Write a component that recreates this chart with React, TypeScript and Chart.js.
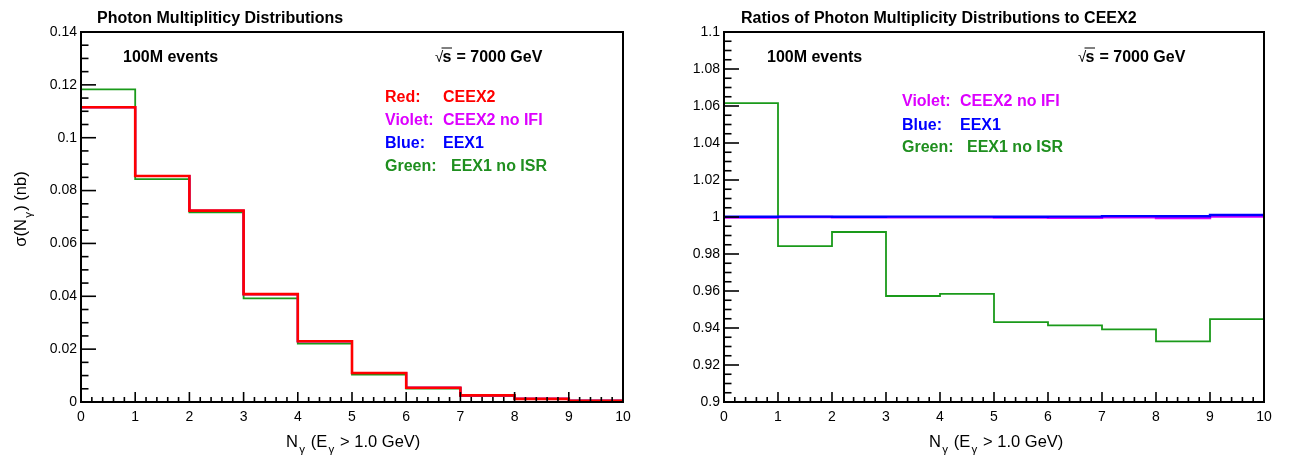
import React, { useEffect, useRef } from 'react';
import { Chart, registerables } from 'chart.js';
Chart.register(...registerables);

const FONT = '"Liberation Sans", Arial, Helvetica, sans-serif';

// ---- data ----
const binLowEdges = [0, 1, 2, 3, 4, 5, 6, 7, 8, 9];
const binUpperEdge = 10;

// Left panel: cross sections (nb)
const xsRed = [0.1115, 0.0855, 0.0724, 0.0408, 0.0230, 0.0110, 0.0054, 0.0025, 0.0012, 0.0005];
const xsViolet = [0.1115, 0.0855, 0.0724, 0.0408, 0.0230, 0.0110, 0.0054, 0.0025, 0.0012, 0.0005];
const xsBlue = [0.1115, 0.0855, 0.0724, 0.0408, 0.0230, 0.0110, 0.0054, 0.0025, 0.0012, 0.0005];
const xsGreen = [0.1183, 0.0843, 0.0718, 0.0392, 0.0221, 0.0104, 0.0051, 0.00235, 0.0011, 0.00047];

// Right panel: ratios to CEEX2
const ratioViolet = [0.9997, 1.0, 0.9999, 0.9999, 0.9998, 0.9997, 0.9996, 0.9998, 0.9995, 1.0002];
const ratioBlue = [1.0001, 1.0002, 1.0001, 1.0002, 1.0002, 1.0001, 1.0002, 1.0005, 1.0004, 1.0011];
const ratioGreen = [1.0616, 0.9843, 0.9919, 0.9573, 0.9584, 0.9432, 0.9414, 0.9393, 0.9328, 0.9448];

// tick labels
const xTickLabels = ['0', '1', '2', '3', '4', '5', '6', '7', '8', '9', '10'];
const yTickLabelsLeft = ['0', '0.02', '0.04', '0.06', '0.08', '0.1', '0.12', '0.14'];
const yTickLabelsRight = ['0.9', '0.92', '0.94', '0.96', '0.98', '1', '1.02', '1.04', '1.06', '1.08', '1.1'];

const COL_RED = '#ff0000';
const COL_VIOLET = '#dd00ff';
const COL_BLUE = '#0000ff';
const COL_GREEN = '#1a9a1a';
const COL_GREEN_TXT = '#1f8f1f';

function histPoints(values: number[]) {
  const pts = binLowEdges.map((x, i) => ({ x, y: values[i] }));
  pts.push({ x: binUpperEdge, y: values[values.length - 1] });
  return pts;
}

type Seg = { t: string; sub?: boolean };

function richWidth(ctx: CanvasRenderingContext2D, segs: Seg[], size: number) {
  let w = 0;
  for (const s of segs) {
    const fs = s.sub ? size * 0.7 : size;
    ctx.font = `${fs}px ${FONT}`;
    w += ctx.measureText(s.t).width + (s.sub ? size * 0.15 : 0);
  }
  return w;
}

function drawRich(ctx: CanvasRenderingContext2D, segs: Seg[], x: number, y: number, size: number) {
  let cx = x;
  for (const s of segs) {
    const fs = s.sub ? size * 0.7 : size;
    ctx.font = `${fs}px ${FONT}`;
    ctx.fillText(s.t, cx + (s.sub ? size * 0.08 : 0), s.sub ? y + size * 0.35 : y);
    cx += ctx.measureText(s.t).width + (s.sub ? size * 0.15 : 0);
  }
}

function drawSqrtS(ctx: CanvasRenderingContext2D, x: number, y: number) {
  ctx.fillStyle = '#000';
  ctx.font = `15px ${FONT}`;
  ctx.fillText('\u221A', x, y);
  ctx.font = `bold 16px ${FONT}`;
  ctx.fillText('s', x + 7.5, y);
  ctx.strokeStyle = '#000';
  ctx.lineWidth = 1;
  ctx.beginPath();
  ctx.moveTo(x + 6.5, y - 13.5);
  ctx.lineTo(x + 17, y - 13.5);
  ctx.stroke();
  ctx.fillText('= 7000 GeV', x + 21.5, y);
}

function text(ctx: CanvasRenderingContext2D, t: string, x: number, y: number, color: string, bold = true, size = 16) {
  ctx.fillStyle = color;
  ctx.font = `${bold ? 'bold ' : ''}${size}px ${FONT}`;
  ctx.fillText(t, x, y);
}

function makeRootPlugin(id: string, minorX: number, minorY: number, decorate: (ctx: CanvasRenderingContext2D, chart: any) => void) {
  return {
    id,
    afterDraw(chart: any) {
      const ctx: CanvasRenderingContext2D = chart.ctx;
      const a = chart.chartArea;
      const xs = chart.scales.x;
      const ys = chart.scales.y;
      ctx.save();
      ctx.strokeStyle = '#000';
      // ticks
      ctx.lineWidth = 1.6;
      const nx = Math.round((xs.max - xs.min) / minorX);
      for (let i = 0; i <= nx; i++) {
        const px = xs.getPixelForValue(xs.min + i * minorX);
        const len = i % 5 === 0 ? 10 : 5;
        ctx.beginPath();
        ctx.moveTo(px, a.bottom);
        ctx.lineTo(px, a.bottom - len);
        ctx.stroke();
      }
      const ny = Math.round((ys.max - ys.min) / minorY);
      for (let i = 0; i <= ny; i++) {
        const py = ys.getPixelForValue(ys.min + i * minorY);
        const len = i % 4 === 0 ? 15 : 7.5;
        ctx.beginPath();
        ctx.moveTo(a.left, py);
        ctx.lineTo(a.left + len, py);
        ctx.stroke();
      }
      // frame
      ctx.lineWidth = 2;
      ctx.strokeRect(a.left, a.top, a.right - a.left, a.bottom - a.top);
      ctx.textBaseline = 'alphabetic';
      ctx.textAlign = 'left';
      decorate(ctx, chart);
      ctx.restore();
    },
  };
}

const xTitleSegs: Seg[] = [
  { t: 'N' }, { t: '\u03B3', sub: true }, { t: ' (E' }, { t: '\u03B3', sub: true }, { t: ' > 1.0 GeV)' },
];
const yTitleSegs: Seg[] = [{ t: '\u03C3(N' }, { t: '\u03B3', sub: true }, { t: ') (nb)' }];

function baseOptions(yMin: number, yMax: number, yLabels: string[], yWidth: number, padRight: number) {
  return {
    animation: false,
    responsive: false,
    maintainAspectRatio: false,
    layout: { padding: { top: 32, right: padRight, left: 0, bottom: 0 } },
    plugins: { legend: { display: false }, tooltip: { enabled: false }, title: { display: false } },
    elements: { point: { radius: 0 }, line: { tension: 0 } },
    scales: {
      x: {
        type: 'linear',
        min: 0,
        max: 10,
        ticks: {
          stepSize: 1,
          autoSkip: false,
          maxRotation: 0,
          color: '#000',
          padding: 7,
          font: { family: FONT, size: 14 },
          callback: (_v: any, i: number) => xTickLabels[i],
        },
        grid: { display: false, drawTicks: false },
        border: { display: false },
        afterFit: (s: any) => { s.height = 58; },
      },
      y: {
        type: 'linear',
        min: yMin,
        max: yMax,
        ticks: {
          stepSize: 0.02,
          autoSkip: false,
          color: '#000',
          padding: 4,
          font: { family: FONT, size: 14 },
          callback: (_v: any, i: number) => yLabels[i],
        },
        grid: { display: false, drawTicks: false },
        border: { display: false },
        afterFit: (s: any) => { s.width = yWidth; },
      },
    },
  };
}

function ds(values: number[], color: string, width: number) {
  return {
    data: histPoints(values),
    borderColor: color,
    borderWidth: width,
    stepped: true,
    pointRadius: 0,
    fill: false,
  };
}

export default function App() {
  const leftRef = useRef<HTMLCanvasElement>(null);
  const rightRef = useRef<HTMLCanvasElement>(null);

  useEffect(() => {
    const leftPlugin = makeRootPlugin('rootLeft', 0.2, 0.005, (ctx) => {
      text(ctx, 'Photon Multipliticy Distributions', 97, 23, '#000', true, 16);
      text(ctx, '100M events', 123, 61.5, '#000');
      drawSqrtS(ctx, 435, 61.5);
      text(ctx, 'Red:', 385, 101.5, COL_RED);
      text(ctx, 'CEEX2', 443, 101.5, COL_RED);
      text(ctx, 'Violet:', 385, 124.5, COL_VIOLET);
      text(ctx, 'CEEX2 no IFI', 443, 124.5, COL_VIOLET);
      text(ctx, 'Blue:', 385, 148, COL_BLUE);
      text(ctx, 'EEX1', 443, 148, COL_BLUE);
      text(ctx, 'Green:', 385, 170.5, COL_GREEN_TXT);
      text(ctx, 'EEX1 no ISR', 451, 170.5, COL_GREEN_TXT);
      ctx.fillStyle = '#000';
      drawRich(ctx, xTitleSegs, 286, 447, 16.5);
      // y title rotated
      const w = richWidth(ctx, yTitleSegs, 16.5);
      ctx.save();
      ctx.translate(26, 209);
      ctx.rotate(-Math.PI / 2);
      drawRich(ctx, yTitleSegs, -w / 2, 0, 16.5);
      ctx.restore();
    });

    const off = 645;
    const rightPlugin = makeRootPlugin('rootRight', 0.2, 0.005, (ctx) => {
      text(ctx, 'Ratios of Photon Multiplicity Distributions to CEEX2', 741 - off, 23, '#000', true, 16);
      text(ctx, '100M events', 767 - off, 61.5, '#000');
      drawSqrtS(ctx, 1078 - off, 61.5);
      text(ctx, 'Violet:', 902 - off, 106, COL_VIOLET);
      text(ctx, 'CEEX2 no IFI', 960 - off, 106, COL_VIOLET);
      text(ctx, 'Blue:', 902 - off, 130, COL_BLUE);
      text(ctx, 'EEX1', 960 - off, 130, COL_BLUE);
      text(ctx, 'Green:', 902 - off, 152, COL_GREEN_TXT);
      text(ctx, 'EEX1 no ISR', 967 - off, 152, COL_GREEN_TXT);
      ctx.fillStyle = '#000';
      drawRich(ctx, xTitleSegs, 929 - off, 447, 16.5);
    });

    const left = new Chart(leftRef.current as HTMLCanvasElement, {
      type: 'line',
      data: {
        datasets: [
          ds(xsRed, COL_RED, 2.6),
          ds(xsViolet, COL_VIOLET, 2),
          ds(xsBlue, COL_BLUE, 2),
          ds(xsGreen, COL_GREEN, 1.8),
        ],
      },
      options: baseOptions(0, 0.14, yTickLabelsLeft, 81, 22) as any,
      plugins: [leftPlugin],
    } as any);

    const right = new Chart(rightRef.current as HTMLCanvasElement, {
      type: 'line',
      data: {
        datasets: [
          ds(ratioBlue, COL_BLUE, 2.4),
          ds(ratioViolet, COL_VIOLET, 2.4),
          ds(ratioGreen, COL_GREEN, 1.8),
        ],
      },
      options: baseOptions(0.9, 1.1, yTickLabelsRight, 79, 26) as any,
      plugins: [rightPlugin],
    } as any);

    return () => {
      left.destroy();
      right.destroy();
    };
  }, []);

  return (
    <div style={{ position: 'fixed', left: 0, top: 0, width: 1290, height: 460, background: '#fff' }}>
      <canvas ref={leftRef} width={645} height={460} style={{ position: 'absolute', left: 0, top: 0, width: 645, height: 460 }} />
      <canvas ref={rightRef} width={645} height={460} style={{ position: 'absolute', left: 645, top: 0, width: 645, height: 460 }} />
    </div>
  );
}
